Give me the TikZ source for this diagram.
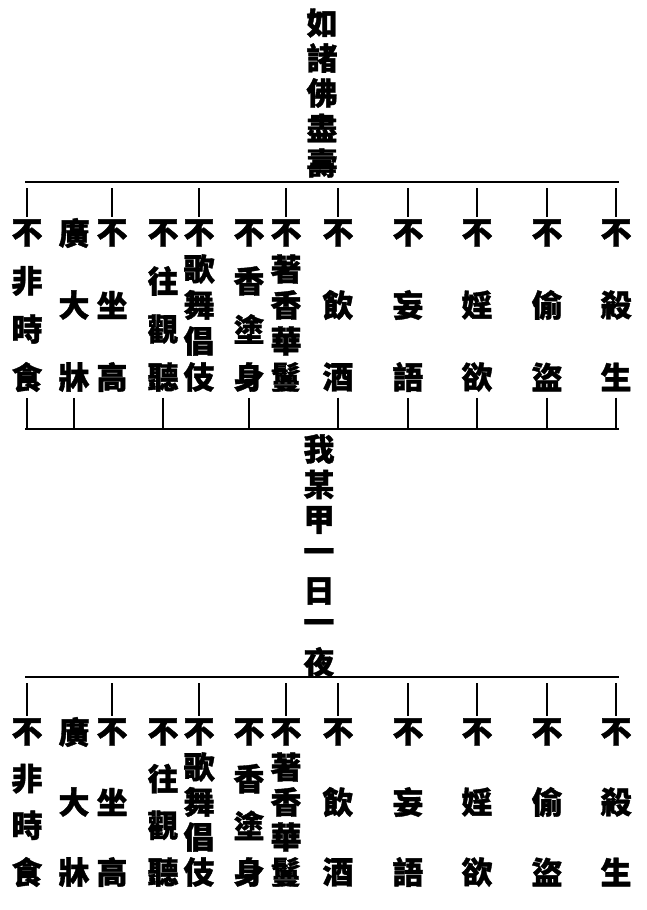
\documentclass[tikz,border=0pt]{standalone}
\usepackage{fontspec}
\newfontfamily\cjk{Noto Sans CJK TC}[BoldFeatures={FakeBold=1.2}]
\usetikzlibrary{positioning}
\tikzset{
  zi/.style={inner sep=0pt, font=\cjk\bfseries\fontsize{31}{31}\selectfont},
  bar/.style={line width=2pt},
  tick/.style={line width=1.5pt},
}

\begin{document}
\begin{tikzpicture}[x=1pt, y=-1pt]
  \fill[white] (0,0) rectangle (646,910);
  \useasboundingbox (0,0) rectangle (646,910);

  % title above the first line
  \foreach \c [count=\j] in {如,諸,佛,盡,壽}
    \node[zi] (t-\j) at (322, {23+35*(\j-1)}) {\c};

  % middle text between the two blocks
  \foreach \c [count=\j] in {我,某,甲,一,日,一,夜}
    \node[zi] (m-\j) at (319, {449+35.5*(\j-1)}) {\c};

  % the two blocks of precepts
  \foreach \b/\yl/\yt/\yb in {a/182/233/377, b/677/732/872} {
    \coordinate (\b-l) at (25,\yl);
    \coordinate (\b-r) at (619,\yl);
    \draw[bar] (\b-l) -- (\b-r);
    \foreach \x/\n/\zs [count=\i] in {27/4/{不,非,時,食}, 74/3/{廣,大,牀}, 112/3/{不,坐,高},
        163/4/{不,往,觀,聽}, 199/5/{不,歌,舞,倡,伎}, 249/4/{不,香,塗,身},
        286/5/{不,著,香,華,鬘}, 338/3/{不,飲,酒}, 408/3/{不,妄,語},
        477/3/{不,婬,欲}, 547/3/{不,偷,盜}, 616/3/{不,殺,生}} {
      \foreach \c [count=\j] in \zs
        \node[zi] (\b-\i-\j) at (\x, {\yt+(\j-1)*(\yb-\yt)/(\n-1)}) {\c};
      \coordinate (\b-\i-end) at (\b-\i-\n.south);
    }
    % ticks from the line down to each item
    \foreach \i in {1,3,5,7,8,9,10,11,12} {
      \coordinate (\b-u\i) at (\b-\i-1.north |- \b-l);
      \draw[tick, shorten <=6pt, shorten >=2pt] (\b-u\i) -- (\b-\i-1);
    }
  }

  % line closing the first block
  \coordinate (c-l) at (25,429);
  \coordinate (c-r) at (619,429);
  \draw[bar] (c-l) -- (c-r);
  \foreach \i in {1,2,4,6,8,9,10,11,12} {
    \coordinate (c-d\i) at (a-\i-end |- c-l);
    \draw[tick, shorten <=6pt] (a-\i-end) -- (c-d\i);
  }
\end{tikzpicture}
\end{document}
